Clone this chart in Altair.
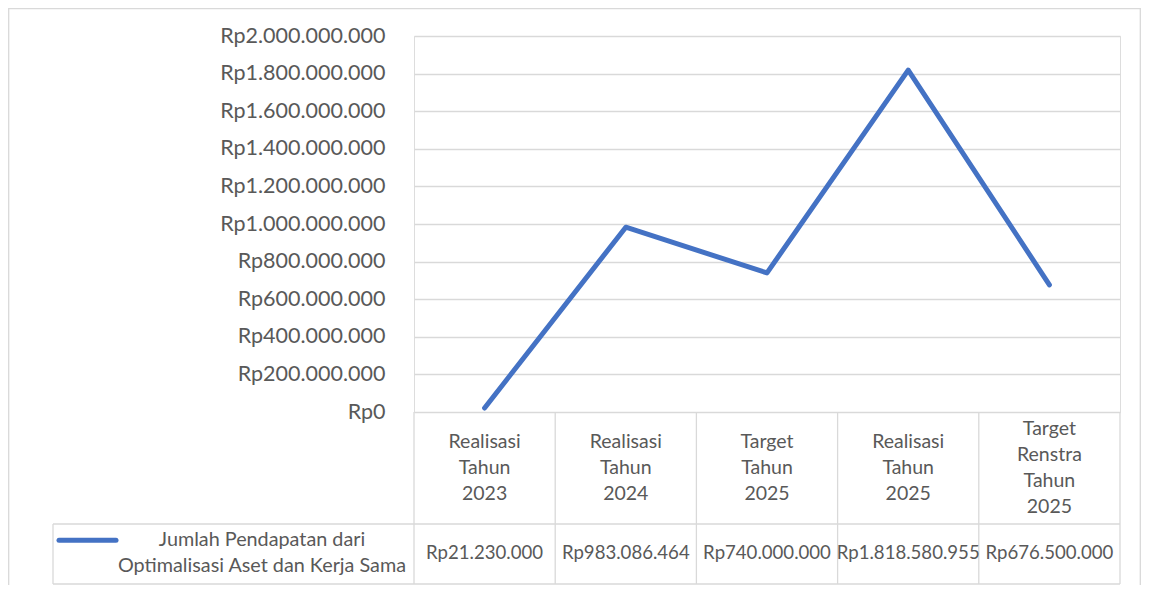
import altair as alt
import pandas as pd

# ---- data ----
categories = ["Realisasi\nTahun\n2023", "Realisasi\nTahun\n2024", "Target\nTahun\n2025",
              "Realisasi\nTahun\n2025", "Target\nRenstra\nTahun\n2025"]
values = [21230000, 983086464, 740000000, 1818580955, 676500000]
series_name = "Jumlah Pendapatan dari\nOptimalisasi Aset dan Kerja Sama"
y_ticks = [0, 200000000, 400000000, 600000000, 800000000, 1000000000,
           1200000000, 1400000000, 1600000000, 1800000000, 2000000000]

# ---- layout constants (pixels) ----
PLOT_W, PLOT_H = 706, 376
PAD_L, PAD_T, PAD_R, PAD_B = 406, 28, 21, 173
COL_W = PLOT_W / len(categories)
HEADER_BOTTOM = 112      # px below plot bottom
TABLE_BOTTOM = 172
LEG_LEFT_PX = 53 - 414    # legend cell left edge relative to plot left
LEG_KEY = (59 - 414, 116 - 414)
LEG_TEXT_C = 262 - 414
VAL_Y = 141               # value row text centre below plot bottom
HDR_C = 55.5              # header text block centre below plot bottom
HDR_LH = 26
LEG_LH = 25.5


def u(px):
    """pixel offset from plot left -> x data units"""
    return px / COL_W - 0.5


FONT = "Lato"
TXT = "#595959"
GRID = "#d9d9d9"
BLUE = "#4472C4"

df = pd.DataFrame({"idx": list(range(len(categories))), "cat": categories, "value": values})
df["nlines"] = [c.count("\n") + 1 for c in categories]

xs = alt.Scale(domain=[-0.5, len(categories) - 0.5], nice=False, zero=False)


def X(f):
    return alt.X(f, scale=xs, axis=None)


base = alt.Chart(df)

line = base.mark_line(color=BLUE, strokeWidth=5, strokeCap="round", strokeJoin="round").encode(
    x=X("idx:Q"),
    y=alt.Y("value:Q",
            scale=alt.Scale(domain=[0, 2000000000], nice=False),
            axis=alt.Axis(values=y_ticks, format="$,.0f", title=None, ticks=False, domain=False,
                          labelFont=FONT, labelFontSize=21.5, labelColor=TXT, labelPadding=29,
                          gridColor=GRID, gridWidth=1.3)),
)

# table vertical lines
vlines = pd.DataFrame({"xv": [i - 0.5 for i in range(len(categories) + 1)]})
vrules = alt.Chart(vlines).mark_rule(color=GRID, strokeWidth=1.3).encode(
    x=X("xv:Q"), y=alt.value(PLOT_H), y2=alt.value(PLOT_H + TABLE_BOTTOM))

leg_df = pd.DataFrame({"name": [series_name], "xl": [u(LEG_LEFT_PX)], "xr": [len(categories) - 0.5],
                       "k1": [u(LEG_KEY[0])], "k2": [u(LEG_KEY[1])], "tc": [u(LEG_TEXT_C)]})
leg = alt.Chart(leg_df)
leg_vrule = leg.mark_rule(color=GRID, strokeWidth=1.3).encode(
    x=X("xl:Q"), y=alt.value(PLOT_H + HEADER_BOTTOM), y2=alt.value(PLOT_H + TABLE_BOTTOM))
h1 = leg.mark_rule(color=GRID, strokeWidth=1.3).encode(
    x=X("xl:Q"), x2="xr:Q", y=alt.value(PLOT_H + HEADER_BOTTOM))
h2 = leg.mark_rule(color=GRID, strokeWidth=1.3).encode(
    x=X("xl:Q"), x2="xr:Q", y=alt.value(PLOT_H + TABLE_BOTTOM))
key = leg.mark_rule(color=BLUE, strokeWidth=5, strokeCap="round").encode(
    x=X("k1:Q"), x2="k2:Q", y=alt.value(PLOT_H + VAL_Y - LEG_LH / 2))
leg_text = leg.mark_text(font=FONT, fontSize=19.8, color=TXT, lineBreak="\n", lineHeight=LEG_LH,
                         baseline="middle", align="center").encode(
    x=X("tc:Q"), y=alt.value(PLOT_H + VAL_Y - LEG_LH / 2), text="name:N")

headers = []
for n in sorted(set(df["nlines"])):
    headers.append(
        base.transform_filter(alt.datum.nlines == n).mark_text(
            font=FONT, fontSize=19.5, color=TXT, lineBreak="\n", lineHeight=HDR_LH,
            baseline="middle", align="center").encode(
            x=X("idx:Q"), y=alt.value(PLOT_H + HDR_C - (n - 1) * HDR_LH / 2), text="cat:N"))

vals = base.mark_text(font=FONT, fontSize=18.6, color=TXT, baseline="middle", align="center").encode(
    x=X("idx:Q"), y=alt.value(PLOT_H + VAL_Y), text=alt.Text("value:Q", format="$,.0f"))

frame = alt.Chart(pd.DataFrame({"a": [0]})).mark_rect(filled=False, stroke=GRID, strokeWidth=1.3).encode(
    x=alt.value(-PAD_L + 0.7), x2=alt.value(PLOT_W + PAD_R - 0.7),
    y=alt.value(-PAD_T + 0.7), y2=alt.value(700))

chart = alt.layer(frame, vrules, leg_vrule, h1, h2, key, leg_text, *headers, vals, line).properties(
    width=PLOT_W, height=PLOT_H,
    autosize=alt.AutoSizeParams(type="none"),
    padding={"left": PAD_L, "top": PAD_T, "right": PAD_R, "bottom": PAD_B},
    background="white",
).configure_view(stroke=None).configure(
    locale={"number": {"decimal": ",", "thousands": ".", "grouping": [3], "currency": ["Rp", ""]}}
)

chart.save("out.html", embed_options={"renderer": "svg", "actions": False})
